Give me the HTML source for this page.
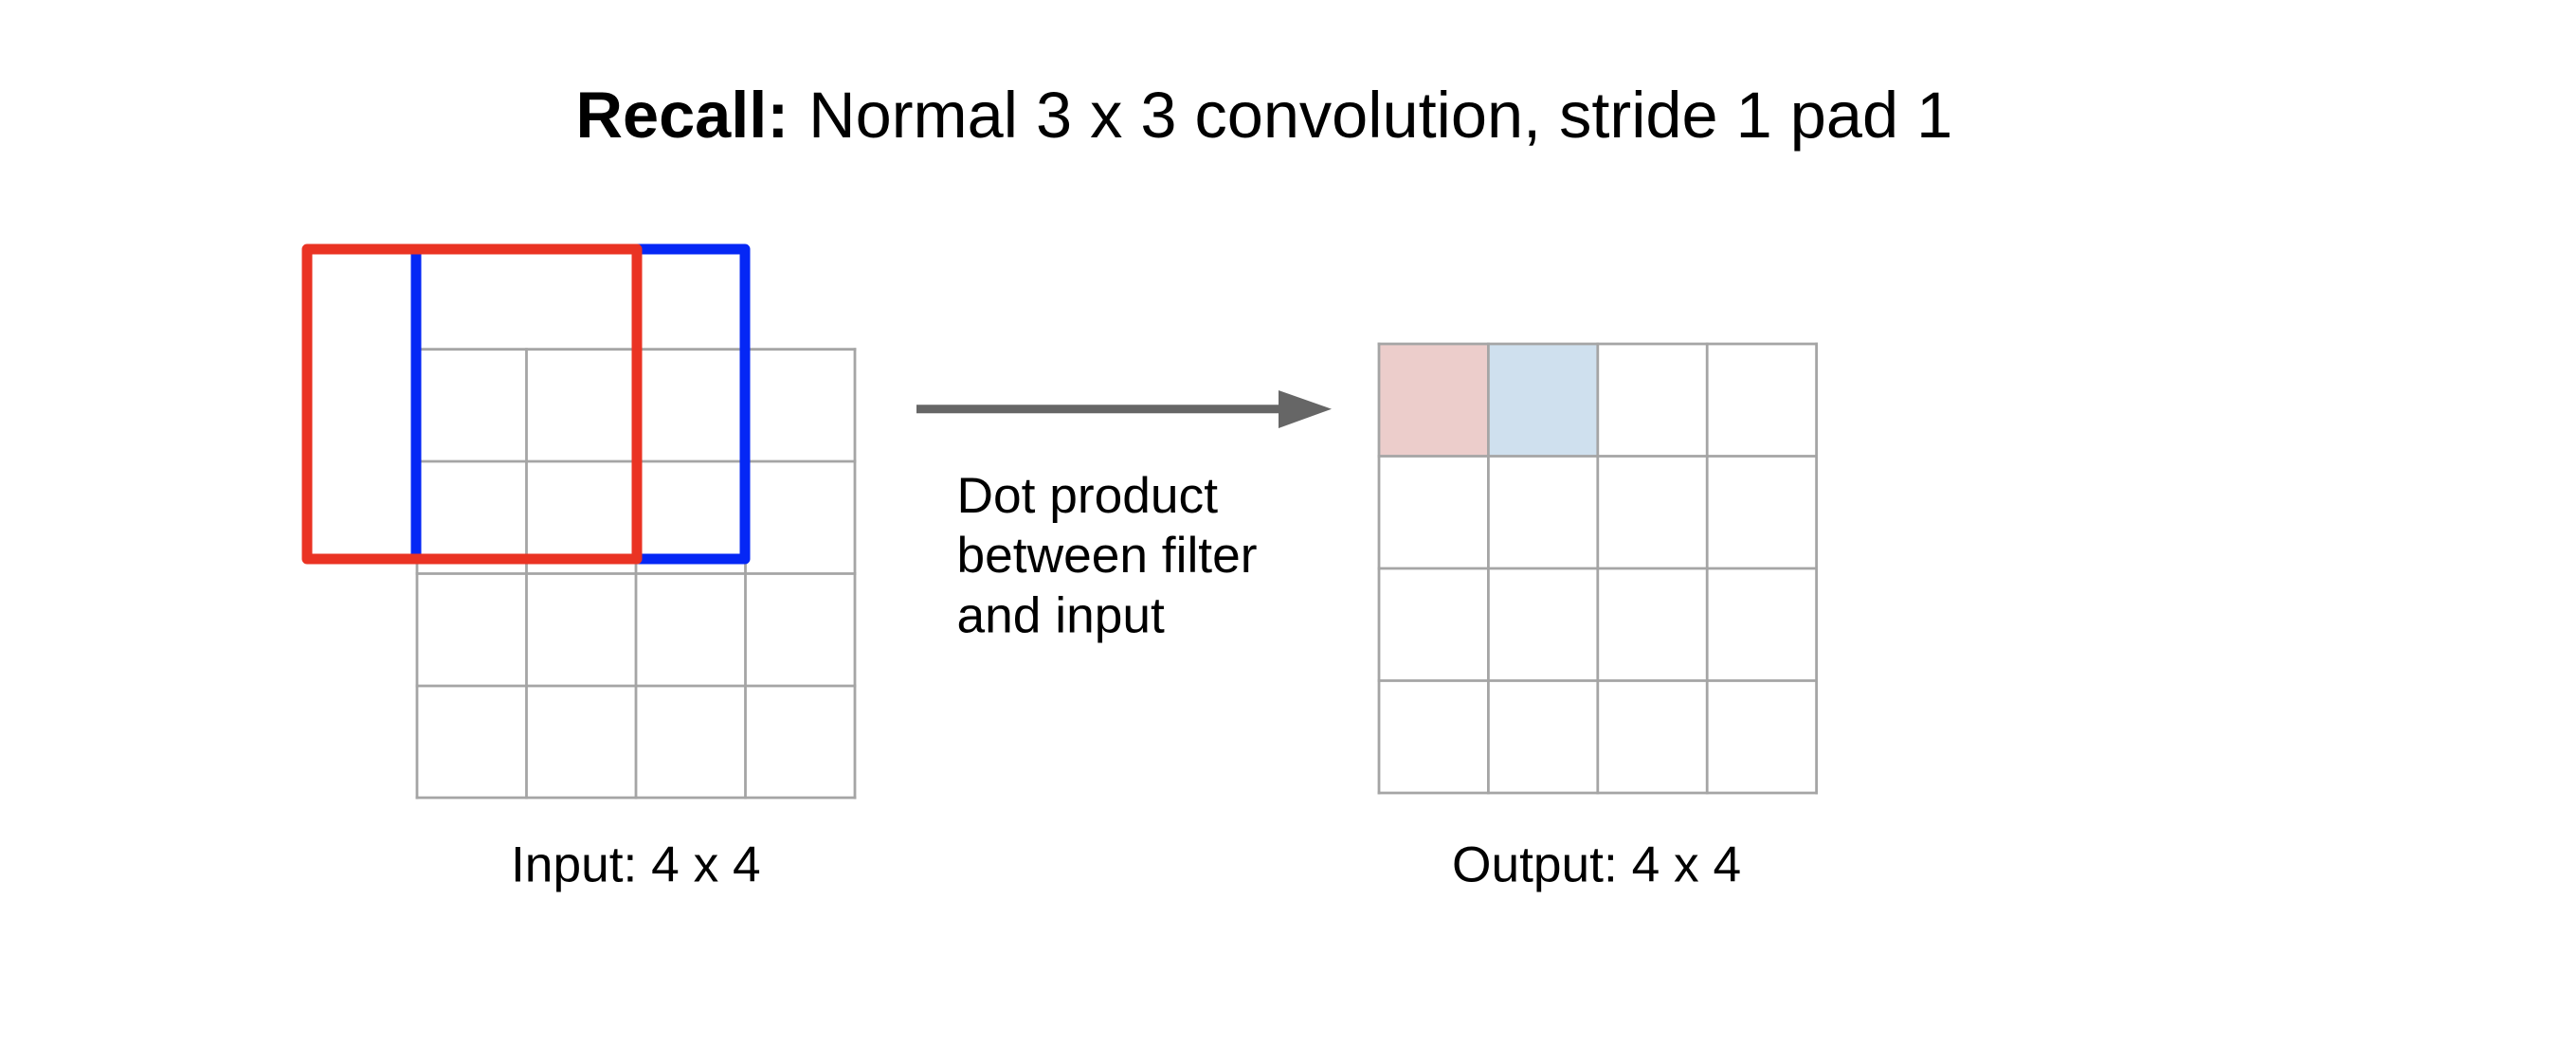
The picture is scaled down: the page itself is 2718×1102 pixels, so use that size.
<!DOCTYPE html>
<html lang="en">
<head>
<meta charset="utf-8">
<title>Recall: Normal 3 x 3 convolution, stride 1 pad 1</title>
<style>
html,body{margin:0;padding:0;background:#fff;width:2718px;height:1102px;overflow:hidden}
svg{display:block}
text{font-family:"Liberation Sans",Arial,sans-serif;fill:#000}
.g{stroke:#a5a5a5;stroke-width:2.8;fill:none;stroke-linecap:square}
.lbl{font-size:53.3px}
</style>
</head>
<body>
<svg width="2718" height="1102" viewBox="0 0 2718 1102" xmlns="http://www.w3.org/2000/svg">
  <text x="607.5" y="145" font-size="68.5"><tspan font-weight="700">Recall:</tspan><tspan dx="2"> Normal 3 x 3 convolution, stride 1 pad 1</tspan></text>

  <g class="g">
    <line x1="440" y1="368.7" x2="440" y2="842"/>
    <line x1="555.5" y1="368.7" x2="555.5" y2="842"/>
    <line x1="671" y1="368.7" x2="671" y2="842"/>
    <line x1="786.5" y1="368.7" x2="786.5" y2="842"/>
    <line x1="902" y1="368.7" x2="902" y2="842"/>
    <line x1="440" y1="368.7" x2="902" y2="368.7"/>
    <line x1="440" y1="487" x2="902" y2="487"/>
    <line x1="440" y1="605.5" x2="902" y2="605.5"/>
    <line x1="440" y1="724" x2="902" y2="724"/>
    <line x1="440" y1="842" x2="902" y2="842"/>
  </g>

  <rect x="439" y="263" width="347" height="327" fill="none" stroke="#0527f5" stroke-width="11" stroke-linejoin="round"/>
  <rect x="324" y="263" width="348" height="327" fill="none" stroke="#ea3323" stroke-width="11" stroke-linejoin="round"/>

  <g>
    <line x1="967" y1="431.7" x2="1352" y2="431.7" stroke="#666" stroke-width="9"/>
    <polygon points="1349,412 1405,431.7 1349,452" fill="#666"/>
  </g>

  <text class="lbl">
    <tspan x="1009.5" y="541">Dot product</tspan>
    <tspan x="1009.5" y="604">between filter</tspan>
    <tspan x="1009.5" y="667.5">and input</tspan>
  </text>

  <rect x="1455" y="363" width="115.4" height="118.5" fill="#eccdcb"/>
  <rect x="1570.4" y="363" width="115.4" height="118.5" fill="#cfe0ee"/>

  <g class="g">
    <line x1="1455" y1="363" x2="1455" y2="837"/>
    <line x1="1570.4" y1="363" x2="1570.4" y2="837"/>
    <line x1="1685.8" y1="363" x2="1685.8" y2="837"/>
    <line x1="1801.2" y1="363" x2="1801.2" y2="837"/>
    <line x1="1916.6" y1="363" x2="1916.6" y2="837"/>
    <line x1="1455" y1="363" x2="1916.6" y2="363"/>
    <line x1="1455" y1="481.5" x2="1916.6" y2="481.5"/>
    <line x1="1455" y1="600" x2="1916.6" y2="600"/>
    <line x1="1455" y1="718.5" x2="1916.6" y2="718.5"/>
    <line x1="1455" y1="837" x2="1916.6" y2="837"/>
  </g>

  <text class="lbl" x="539" y="930.7">Input: 4 x 4</text>
  <text class="lbl" x="1532" y="930.7">Output: 4 x 4</text>
</svg>
</body>
</html>
